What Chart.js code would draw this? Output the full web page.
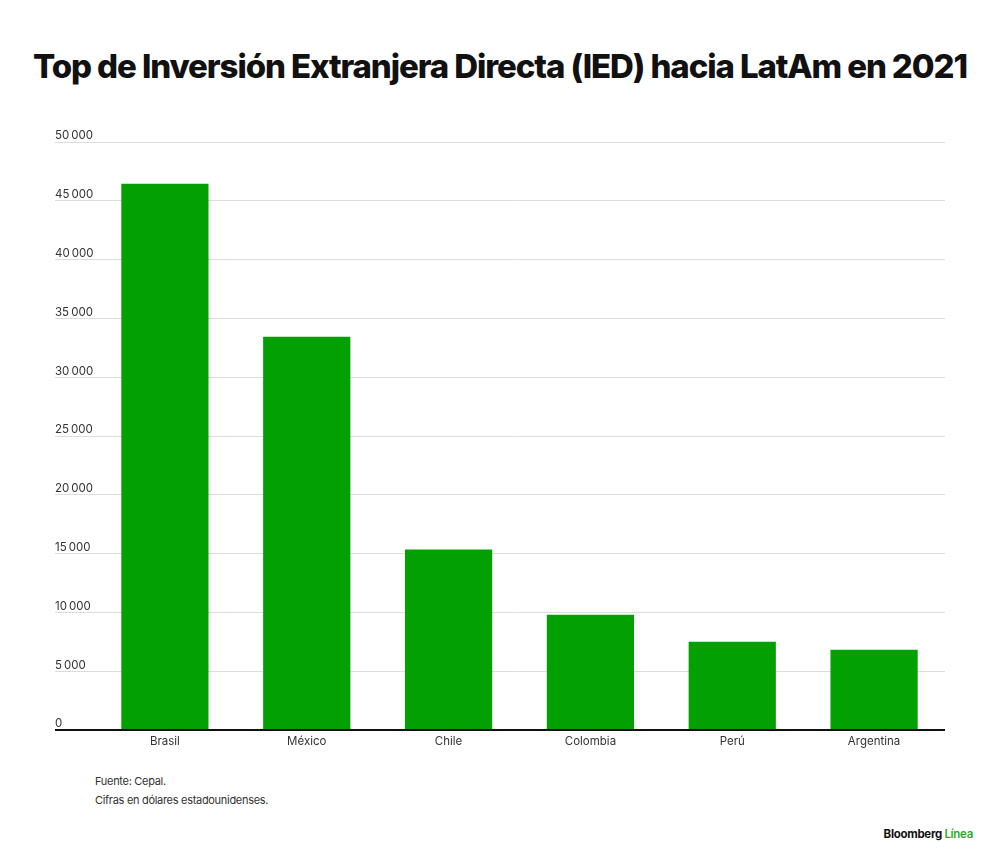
<!DOCTYPE html>
<html lang="es">
<head>
<meta charset="utf-8">
<script src="https://cdn.jsdelivr.net/npm/chart.js@4"></script>
<style>
    html, body { margin: 0; padding: 0; background: #fff; }
    body { width: 1000px; height: 864px; position: relative; overflow: hidden; font-family: Inter, "Liberation Sans", sans-serif; color: #222; }
    h1 { position: absolute; left: 0; width: 1000px; top: 46px; margin: 0; text-align: center; font-size: 33px; font-weight: 800; letter-spacing: -1.1px; color: #111; white-space: nowrap; }
    #chart-box { position: absolute; left: 0; top: 100px; width: 1000px; height: 660px; }
    .note { position: absolute; left: 95px; font-size: 11px; color: #333; letter-spacing: -0.3px; }
    #brand { position: absolute; right: 27px; top: 827px; font-size: 11.5px; font-weight: 700; color: #111; letter-spacing: -0.3px; }
    #brand span { color: #2fa52f; font-weight: 600; }
</style>
</head>
<body>
<h1>Top de Inversión Extranjera Directa (IED) hacia LatAm en 2021</h1>
<div id="chart-box"><canvas id="ied-chart"></canvas></div>
<div class="note" style="top: 774px;">Fuente: Cepal.</div>
<div class="note" style="top: 793px;">Cifras en dólares estadounidenses.</div>
<div id="brand">Bloomberg <span>Línea</span></div>
<script>
const countries = ['Brasil', 'México', 'Chile', 'Colombia', 'Perú', 'Argentina'];
const iedValues = [46440, 33450, 15340, 9810, 7510, 6830];
const yTicks = [0, 5000, 10000, 15000, 20000, 25000, 30000, 35000, 40000, 45000, 50000];

function formatThousands(v) {
    return String(v).replace(/\B(?=(\d{3})+(?!\d))/g, '\u2009');
}

const ctx = document.getElementById('ied-chart').getContext('2d');
new Chart(ctx, {
    type: 'bar',
    data: {
        labels: countries,
        datasets: [{
            label: 'IED',
            data: iedValues,
            backgroundColor: '#03a004',
            borderWidth: 0
        }]
    },
    options: {
        responsive: true,
        maintainAspectRatio: false,
        animation: false,
        layout: { padding: { left: 55, right: 55, top: 42, bottom: 0 } },
        plugins: {
            legend: { display: false },
            tooltip: { enabled: false }
        },
        datasets: {
            bar: { barPercentage: 0.615, categoryPercentage: 1 }
        },
        scales: {
            x: {
                grid: { display: false, drawTicks: false },
                border: { display: false },
                ticks: {
                    color: '#333',
                    font: { family: 'Inter, "Liberation Sans", sans-serif', size: 11.5 },
                    padding: 5
                },
                afterFit: (axis) => { axis.height = 30; }
            },
            y: {
                min: 0,
                max: 50000,
                afterBuildTicks: (axis) => { axis.ticks = yTicks.map(v => ({ value: v })); },
                border: { display: false },
                grid: {
                    color: c => (c.tick && c.tick.value === 0) ? '#111' : '#dcdcdc',
                    lineWidth: c => (c.tick && c.tick.value === 0) ? 2 : 1,
                    drawTicks: true,
                    tickLength: 39
                },
                ticks: {
                    crossAlign: 'far',
                    labelOffset: -6,
                    color: '#333',
                    font: { family: 'Inter, "Liberation Sans", sans-serif', size: 11.5 },
                    callback: v => formatThousands(v)
                },
                afterFit: (axis) => { axis.width = 39; }
            }
        }
    }
});
</script>
</body>
</html>
